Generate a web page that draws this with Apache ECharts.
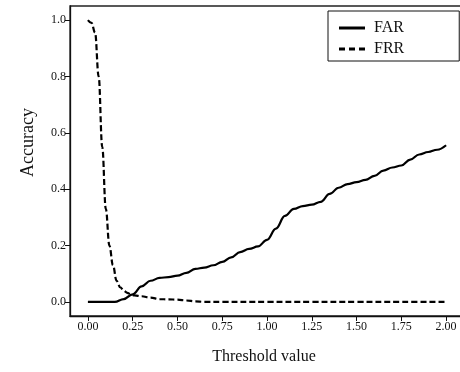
<!DOCTYPE html>
<html>
<head>
<meta charset="utf-8">
<script src="https://cdn.jsdelivr.net/npm/echarts@6/dist/echarts.min.js"></script>
<style>
  html, body { margin: 0; padding: 0; background: #fff; }
  #chart { width: 460px; height: 372px; }
</style>
</head>
<body>
<div id="chart"></div>
<script>
// False acceptance rate, sampled every 0.05 of the threshold
const farThresholds = [0, 0.05, 0.10, 0.15, 0.20, 0.25, 0.30, 0.35, 0.40, 0.45, 0.50, 0.55, 0.60, 0.65, 0.70, 0.75, 0.80, 0.85, 0.90, 0.95, 1.00, 1.05, 1.10, 1.15, 1.20, 1.25, 1.30, 1.35, 1.40, 1.45, 1.50, 1.55, 1.60, 1.65, 1.70, 1.75, 1.80, 1.85, 1.90, 1.95, 2.00];
const farValues = [0, 0, 0, 0, 0.010, 0.027, 0.055, 0.075, 0.085, 0.088, 0.093, 0.103, 0.117, 0.122, 0.130, 0.142, 0.158, 0.177, 0.188, 0.197, 0.220, 0.260, 0.305, 0.330, 0.340, 0.345, 0.355, 0.383, 0.405, 0.418, 0.425, 0.433, 0.447, 0.466, 0.477, 0.484, 0.505, 0.523, 0.532, 0.540, 0.556];

// False rejection rate, sampled more densely where it drops
const frrThresholds = [0, 0.02, 0.04, 0.06, 0.08, 0.10, 0.12, 0.14, 0.16, 0.18, 0.20, 0.22, 0.24, 0.26, 0.30, 0.35, 0.40, 0.45, 0.50, 0.55, 0.60, 0.65, 0.75, 1.00, 1.25, 1.50, 1.75, 2.00];
const frrValues = [1.0, 0.99, 0.955, 0.80, 0.55, 0.33, 0.20, 0.13, 0.075, 0.052, 0.040, 0.032, 0.027, 0.023, 0.020, 0.015, 0.010, 0.009, 0.008, 0.005, 0.002, 0, 0, 0, 0, 0, 0, 0];

const xTicks = [0, 0.25, 0.5, 0.75, 1.0, 1.25, 1.5, 1.75, 2.0];
const yTicks = [0, 0.2, 0.4, 0.6, 0.8, 1.0];

const zip = (xs, ys) => xs.map((x, i) => [x, ys[i]]);
const FONT = '"Liberation Serif", "DejaVu Serif", serif';
const INK = '#111';

// Legend keys: a solid bar and a three-dash bar
const SOLID_KEY = 'path://M0,0h26v3h-26z';
const DASH_KEY = 'path://M0,0h6v3h-6zM10,0h6v3h-6zM20,0h6v3h-6z';

const chart = echarts.init(document.getElementById('chart'), null, { renderer: 'canvas' });
chart.setOption({
  animation: false,
  backgroundColor: '#fff',
  grid: {
    left: 70, right: -4, top: 6, bottom: 56,
    outerBoundsMode: 'none', containLabel: false,
    show: true, borderColor: '#222', borderWidth: 1.3, backgroundColor: 'transparent'
  },
  legend: {
    orient: 'vertical',
    left: 328, top: 11,
    padding: [9, 55, 4, 11],
    itemWidth: 26, itemHeight: 3, itemGap: 5,
    backgroundColor: '#fff',
    borderColor: '#111', borderWidth: 1, borderRadius: 0,
    textStyle: { fontFamily: FONT, fontSize: 16, color: INK, padding: [0, 0, 0, 4], lineHeight: 15 },
    data: [
      { name: 'FAR', icon: SOLID_KEY, itemStyle: { color: '#000' } },
      { name: 'FRR', icon: DASH_KEY, itemStyle: { color: '#000' } }
    ]
  },
  xAxis: {
    type: 'value', min: -0.1, max: 2.1,
    name: 'Threshold value', nameLocation: 'middle', nameGap: 33,
    nameTextStyle: { fontFamily: FONT, fontSize: 16, color: INK, padding: [0, 6, 0, 0] },
    axisLine: { show: true, onZero: false, lineStyle: { color: '#111', width: 1.3 } },
    axisTick: { show: true, length: 5, customValues: xTicks, lineStyle: { color: '#111' } },
    axisLabel: {
      customValues: xTicks, margin: 5,
      fontFamily: FONT, fontSize: 12, color: INK,
      formatter: v => v.toFixed(2)
    },
    splitLine: { show: false }
  },
  yAxis: {
    type: 'value', min: -0.05, max: 1.05,
    name: 'Accuracy', nameLocation: 'middle', nameGap: 33,
    nameTextStyle: { fontFamily: FONT, fontSize: 18, color: INK, padding: [0, 0, 0, 37] },
    axisLine: { show: true, onZero: false, lineStyle: { color: '#111', width: 1.3 } },
    axisTick: { show: true, length: 5, customValues: yTicks, lineStyle: { color: '#111' } },
    axisLabel: {
      customValues: yTicks, margin: 4,
      fontFamily: FONT, fontSize: 12, color: INK,
      formatter: v => v.toFixed(1)
    },
    splitLine: { show: false }
  },
  series: [
    {
      name: 'FAR', type: 'line', data: zip(farThresholds, farValues),
      symbol: 'none', smooth: 0.4, smoothMonotone: 'x',
      lineStyle: { color: '#000', width: 2.2, type: 'solid' },
      itemStyle: { color: '#000' }
    },
    {
      name: 'FRR', type: 'line', data: zip(frrThresholds, frrValues),
      symbol: 'none', smooth: 0.4, smoothMonotone: 'x',
      lineStyle: { color: '#000', width: 2.2, type: [6, 3] },
      itemStyle: { color: '#000' }
    }
  ]
});
</script>
</body>
</html>
